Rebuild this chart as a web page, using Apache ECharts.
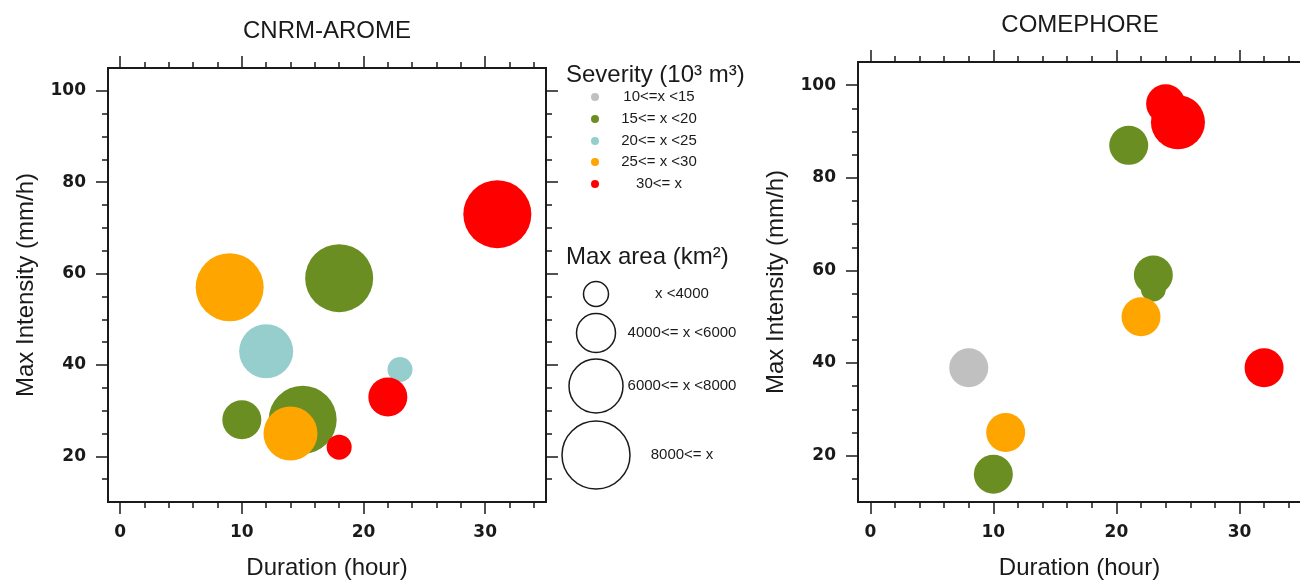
<!DOCTYPE html>
<html>
<head>
<meta charset="utf-8">
<script src="https://cdn.jsdelivr.net/npm/echarts@6/dist/echarts.min.js"></script>
<style>
  html, body { margin: 0; padding: 0; background: #fff; }
  #main { width: 1300px; height: 581px; }
</style>
</head>
<body>
<div id="main"></div>
<script>
// ---- data ----
// CNRM-AROME
var aromeDur  = [31, 9, 18, 12, 23, 22, 10, 15, 14, 18];
var aromeInt  = [73, 57, 59, 43, 39, 33, 28, 28, 25, 22];
var aromeSev  = [4, 3, 1, 2, 2, 4, 1, 1, 3, 4];   // severity class index
var aromeArea = [3, 3, 3, 2, 0, 1, 1, 3, 2, 0];   // max area class index
// COMEPHORE
var comeDur  = [24, 25, 21, 23, 23, 22, 8, 32, 11, 10];
var comeInt  = [96, 92, 87, 59, 56, 50, 39, 39, 25, 16];
var comeSev  = [4, 4, 1, 1, 1, 3, 0, 4, 3, 1];
var comeArea = [1, 2, 1, 1, 0, 1, 1, 1, 1, 1];

var sevLabels  = ['10<=x <15', '15<= x <20', '20<= x <25', '25<= x <30', '30<= x'];
var areaLabels = ['x <4000', '4000<= x <6000', '6000<= x <8000', '8000<= x'];

var xMajor = [0, 10, 20, 30];
var xMinor = [2, 4, 6, 8, 12, 14, 16, 18, 22, 24, 26, 28, 32, 34];
var yMajor = [20, 40, 60, 80, 100];
var yMinor = [15, 25, 30, 35, 45, 50, 55, 65, 70, 75, 85, 90, 95];

// ---- styles ----
var sevColors = ['#c0c0c0', '#6b8e23', '#96cdcd', '#ffa500', '#ff0000'];
var areaDiam  = [25, 39, 54, 68];
var ink = '#1a1a1a';
var tickFont = 'DejaVu Sans';
var nameFont = 'Liberation Sans';

var myChart = echarts.init(document.getElementById('main'));

var panels = [
  { left: 108, top: 68, width: 438, height: 434 },
  { left: 858, top: 62, width: 443, height: 440 }
];

// each panel = two grids on the same rect: one for major ticks (+labels), one for minor ticks
var grids = [], xAxes = [], yAxes = [];
function tickAxis(dim, g, pos, vals, len, label) {
  var ax = {
    type: 'value', gridIndex: g, position: pos,
    min: dim === 'x' ? -1 : 10, max: dim === 'x' ? 35 : 105,
    axisLine: { show: false, onZero: false }, splitLine: { show: false },
    axisTick: { show: true, customValues: vals, length: len, lineStyle: { color: ink, width: 1.5 } },
    axisLabel: { show: false }
  };
  if (label) {
    ax.axisLabel = { show: true, customValues: vals, margin: 22, color: ink,
      fontFamily: tickFont, fontWeight: 'bold', fontSize: 17 };
    ax.name = dim === 'x' ? 'Duration (hour)' : 'Max Intensity (mm/h)';
    ax.nameLocation = 'middle';
    ax.nameGap = dim === 'x' ? 54 : 70;
    ax.nameTextStyle = { color: ink, fontFamily: nameFont, fontSize: 24 };
  }
  return ax;
}
panels.forEach(function (p, k) {
  var gMaj = grids.length;
  grids.push({ left: p.left, top: p.top, width: p.width, height: p.height, show: true,
    borderColor: ink, borderWidth: 2, backgroundColor: 'transparent', outerBoundsMode: 'none' });
  var gMin = grids.length;
  grids.push({ left: p.left, top: p.top, width: p.width, height: p.height, show: false,
    outerBoundsMode: 'none' });

  xAxes.push(tickAxis('x', gMaj, 'bottom', xMajor, 12, true));
  xAxes.push(tickAxis('x', gMaj, 'top', xMajor, 12, false));
  xAxes.push(tickAxis('x', gMin, 'bottom', xMinor, 6, false));
  xAxes.push(tickAxis('x', gMin, 'top', xMinor, 6, false));
  yAxes.push(tickAxis('y', gMaj, 'left', yMajor, 12, true));
  yAxes.push(tickAxis('y', gMaj, 'right', yMajor, 12, false));
  yAxes.push(tickAxis('y', gMin, 'left', yMinor, 6, false));
  yAxes.push(tickAxis('y', gMin, 'right', yMinor, 6, false));
});

// one series per severity class and panel, so that the drawing order follows the class
var series = [];
function addPanel(k, dur, inten, sev, area) {
  for (var c = 0; c < sevLabels.length; c++) {
    var pts = [];
    for (var i = 0; i < dur.length; i++) {
      if (sev[i] === c) pts.push([dur[i], inten[i], area[i]]);
    }
    series.push({
      name: sevLabels[c], type: 'scatter',
      xAxisIndex: k * 4, yAxisIndex: k * 4,
      data: pts,
      symbolSize: function (v) { return areaDiam[v[2]]; },
      itemStyle: { color: sevColors[c], opacity: 1 },
      emphasis: { disabled: true },
      silent: true
    });
  }
}
addPanel(0, aromeDur, aromeInt, aromeSev, aromeArea);
addPanel(1, comeDur, comeInt, comeSev, comeArea);

// titles and the two legends
function txt(x, y, s, font, align) {
  return { type: 'text', x: x, y: y, style: { text: s, font: font, fill: ink,
    align: align, verticalAlign: 'middle', textAlign: align, textVerticalAlign: 'middle' } };
}
var graphic = [
  txt(327, 31, 'CNRM-AROME', '24px Liberation Sans', 'center'),
  txt(1080, 25, 'COMEPHORE', '24px Liberation Sans', 'center'),
  txt(566, 75, 'Severity (10\u00b3 m\u00b3)', '24px Liberation Sans', 'left'),
  txt(566, 257, 'Max area (km\u00b2)', '24px Liberation Sans', 'left')
];
var sevRowY = [97, 119, 141, 162, 184];
sevLabels.forEach(function (lab, i) {
  graphic.push({ type: 'circle', shape: { cx: 595, cy: sevRowY[i], r: 4 }, style: { fill: sevColors[i] } });
  graphic.push(txt(659, sevRowY[i], lab, '15px Liberation Sans', 'center'));
});
var areaRowY = [294, 333, 386, 455];
areaLabels.forEach(function (lab, i) {
  graphic.push({ type: 'circle', shape: { cx: 596, cy: areaRowY[i], r: areaDiam[i] / 2 }, style: { fill: 'none', stroke: ink, lineWidth: 1.5 } });
  graphic.push(txt(682, areaRowY[i], lab, '15px Liberation Sans', 'center'));
});

var option = {
  backgroundColor: '#fff',
  animation: false,
  grid: grids,
  xAxis: xAxes,
  yAxis: yAxes,
  series: series,
  graphic: graphic
};
myChart.setOption(option);
</script>
</body>
</html>
